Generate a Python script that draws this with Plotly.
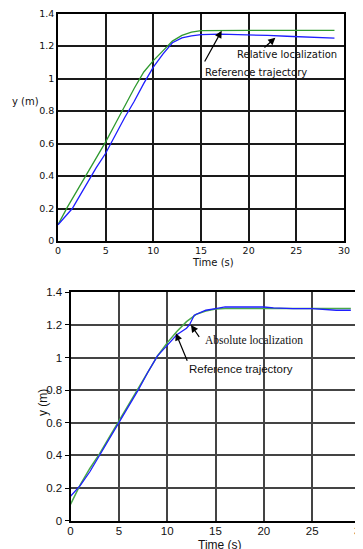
import plotly.graph_objects as go

# The page body has an 8px default margin, so the figure is drawn 8px in from
# the top-left corner; the figure is sized to fill the rest of the window.
OFF = 8
W, H = 363 - OFF, 549 - OFF

# ---------------- data ----------------
# Top panel: relative localization
t_ref_top = [0, 1, 2, 3, 4, 5, 6, 7, 8, 9, 10, 11, 12, 13, 14, 15, 16, 20, 25, 29]
y_ref_top = [0.10, 0.21, 0.31, 0.41, 0.51, 0.61, 0.72, 0.83, 0.94, 1.04, 1.11, 1.17, 1.23, 1.265,
             1.285, 1.295, 1.296, 1.296, 1.296, 1.296]
t_rel_top = [0, 1, 1.5, 2, 3, 4, 5, 6, 7, 8, 9, 10, 11, 12, 13, 14, 15, 17, 20, 22, 24, 26, 28, 29]
y_rel_top = [0.10, 0.17, 0.20, 0.25, 0.35, 0.45, 0.54, 0.65, 0.76, 0.86, 0.97, 1.07, 1.15, 1.22,
             1.25, 1.262, 1.270, 1.273, 1.270, 1.265, 1.260, 1.255, 1.250, 1.248]

# Bottom panel: absolute localization
t_ref_bot = [0, 1, 2, 3, 4, 5, 6, 7, 8, 9, 10, 11, 12, 13, 14, 15, 16, 20, 25, 29]
y_ref_bot = [0.10, 0.22, 0.32, 0.41, 0.51, 0.61, 0.71, 0.81, 0.91, 1.01, 1.09, 1.16, 1.22, 1.265,
             1.285, 1.297, 1.30, 1.30, 1.30, 1.30]
t_abs_bot = [0, 0.5, 1, 2, 3, 4, 5, 6, 7, 8, 9, 10, 11, 12, 12.3, 12.8, 13.5, 14, 15, 16, 18, 20,
             21, 23, 25, 26, 27.5, 29]
y_abs_bot = [0.15, 0.18, 0.215, 0.30, 0.40, 0.50, 0.60, 0.70, 0.80, 0.91, 1.01, 1.075, 1.14, 1.18,
             1.20, 1.26, 1.28, 1.29, 1.30, 1.31, 1.31, 1.31, 1.305, 1.30, 1.30, 1.295, 1.29, 1.29]

x_ticks = [0, 5, 10, 15, 20, 25, 30]
y_ticks = [0, 0.2, 0.4, 0.6, 0.8, 1, 1.2, 1.4]

GREEN = "#2f9a2f"
BLUE = "#1f1fff"
GREEN2 = "#4aa84a"


def px(x):
    return (x - OFF) / W


def py(y):
    return 1 - (y - OFF) / H


fig = go.Figure()
fig.add_trace(go.Scatter(x=t_ref_top, y=y_ref_top, mode="lines", line=dict(color=GREEN, width=1.3),
                         xaxis="x", yaxis="y", showlegend=False))
fig.add_trace(go.Scatter(x=t_rel_top, y=y_rel_top, mode="lines", line=dict(color=BLUE, width=1.3),
                         xaxis="x", yaxis="y", showlegend=False))
fig.add_trace(go.Scatter(x=t_ref_bot, y=y_ref_bot, mode="lines", line=dict(color=GREEN2, width=1.5),
                         xaxis="x2", yaxis="y2", showlegend=False))
fig.add_trace(go.Scatter(x=t_abs_bot, y=y_abs_bot, mode="lines", line=dict(color=BLUE, width=1.3),
                         xaxis="x2", yaxis="y2", showlegend=False))

top_font = dict(family="DejaVu Sans", size=9.5, color="#111")
bot_font = dict(family="Liberation Sans", size=11.5, color="#111")

common = dict(showgrid=True, zeroline=False, showline=True, mirror=True, linecolor="black",
              automargin=False, fixedrange=True, ticklabeloverflow="allow")

fig.update_layout(
    width=W, height=H, template="none",
    margin=dict(l=0, r=0, t=0, b=0),
    paper_bgcolor="white", plot_bgcolor="white",
    xaxis=dict(domain=[px(58), px(344)], range=[0, 30], tickvals=x_ticks, anchor="y",
               gridcolor="#1a1a1a", gridwidth=1.5, linewidth=1.5, ticks="", ticklen=0,
               tickfont=top_font, **common),
    yaxis=dict(domain=[py(241), py(13.5)], range=[0, 1.4], tickvals=y_ticks, anchor="x",
               gridcolor="#1a1a1a", gridwidth=1.5, linewidth=1.5, ticks="", ticklen=0,
               tickfont=top_font, **common),
    xaxis2=dict(domain=[px(70.5), px(360.5)], range=[0, 30], tickvals=x_ticks, anchor="y2",
                gridcolor="#444", gridwidth=1.5, linewidth=2, ticks="", ticklen=0,
                ticklabelstandoff=-2, tickfont=bot_font, **common),
    yaxis2=dict(domain=[py(520.7), py(292.3)], range=[0, 1.4], tickvals=y_ticks, anchor="x2",
                gridcolor="#444", gridwidth=1.5, linewidth=2, ticks="outside", ticklen=4,
                tickcolor="black", tickfont=bot_font, **common),
)

C = dict(xanchor="center", yanchor="middle", showarrow=False)

ann = []
# axis titles
ann.append(dict(text="Time (s)", x=px(213), y=py(263), xref="paper", yref="paper",
                font=dict(family="DejaVu Sans", size=10, color="#111"), **C))
ann.append(dict(text="y (m)", x=px(25), y=py(102), xref="paper", yref="paper",
                font=dict(family="DejaVu Sans", size=10, color="#111"), **C))
ann.append(dict(text="Time (s)", x=px(220), y=py(544.5), xref="paper", yref="paper",
                font=dict(family="Liberation Sans", size=12, color="#111"), **C))
ann.append(dict(text="y (m)", x=px(43), y=py(403), xref="paper", yref="paper",
                textangle=-90, font=dict(family="Liberation Sans", size=12, color="#111"), **C))

# top panel labels and arrows
ann.append(dict(text="Relative localization", x=24.0, y=1.145, xref="x", yref="y",
                font=dict(family="DejaVu Sans", size=10, color="#111"), **C))
ann.append(dict(text="Reference trajectory", x=20.8, y=1.037, xref="x", yref="y",
                font=dict(family="DejaVu Sans", size=10, color="#111"), **C))
ann.append(dict(text="", x=22.8, y=1.251, ax=21.5, ay=1.182, xref="x", yref="y", axref="x", ayref="y",
                showarrow=True, arrowhead=2, arrowsize=1.2, arrowwidth=1.2, arrowcolor="black"))
ann.append(dict(text="", x=17.17, y=1.294, ax=15.3, ay=1.095, xref="x", yref="y", axref="x", ayref="y",
                showarrow=True, arrowhead=2, arrowsize=1.2, arrowwidth=1.2, arrowcolor="black"))

# bottom panel labels and arrows
ann.append(dict(text="Absolute localization", x=19.0, y=1.108, xref="x2", yref="y2",
                font=dict(family="Liberation Serif", size=11.5, color="#111"), **C))
ann.append(dict(text="Reference trajectory", x=17.67, y=0.928, xref="x2", yref="y2",
                font=dict(family="Liberation Sans", size=11.5, color="#111"), **C))
ann.append(dict(text="", x=12.46, y=1.2, ax=13.42, ay=1.118, xref="x2", yref="y2", axref="x2", ayref="y2",
                showarrow=True, arrowhead=2, arrowsize=1.2, arrowwidth=1.2, arrowcolor="black"))
ann.append(dict(text="", x=10.9, y=1.149, ax=12.14, ay=0.971, xref="x2", yref="y2", axref="x2", ayref="y2",
                showarrow=True, arrowhead=2, arrowsize=1.2, arrowwidth=1.2, arrowcolor="black"))

fig.update_layout(annotations=ann)
fig.write_html("out.html")
